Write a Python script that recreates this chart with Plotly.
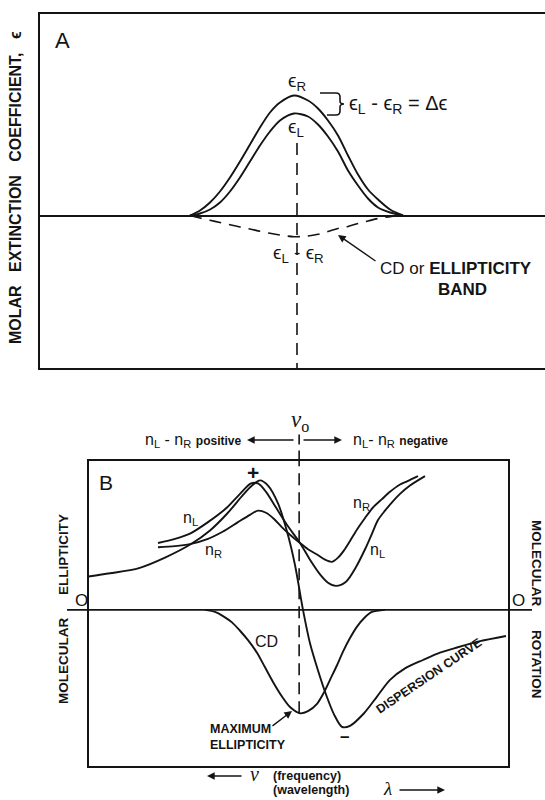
import plotly.graph_objects as go

# ---------------- Panel A data (arbitrary wavelength units vs molar extinction units)
a_wave = [29.70, 31.68, 33.66, 35.64, 37.62, 39.60, 41.58, 43.56, 45.54, 47.52, 50.30,
          53.07, 55.05, 57.03, 59.01, 60.99, 62.97, 64.95, 66.93, 69.31, 71.88]
eps_R = [0, 0.5, 1.3, 2.4, 3.8, 5.4, 7.1, 8.8, 10.3, 11.3, 12.0,
         11.5, 10.7, 9.5, 8.0, 6.0, 4.1, 2.6, 1.6, 0.6, 0]
eps_L = [0, 0.2, 0.6, 1.3, 2.4, 3.8, 5.4, 7.0, 8.4, 9.5, 10.2,
         9.9, 9.1, 7.9, 6.4, 4.5, 3.0, 1.7, 0.8, 0.3, 0]
cd_band = [0, -0.25, -0.48, -0.7, -0.93, -1.15, -1.35, -1.58, -1.78, -1.95, -2.12,
           -2.05, -1.88, -1.6, -1.3, -1.1, -0.8, -0.55, -0.3, -0.12, 0]
a_center = 50.89
a_center_top = 7.25
a_xrange = [0, 100]
a_yrange = [-15.25, 20.15]

# ---------------- Panel B data (arbitrary frequency units vs molecular ellipticity/rotation)
disp_x = [0, 5.10, 12.02, 18.22, 24.42, 28.95, 33.00, 36.82, 38.96, 40.87, 42.78, 45.16,
          47.31, 49.21, 51.12, 52.79, 54.70, 56.61, 58.51, 60.42, 62.33, 65.67, 68.77,
          71.87, 75.44, 79.73, 83.79, 87.84, 93.32, 99.52]
disp_y = [3.2, 3.5, 4.0, 5.0, 6.3, 7.6, 9.2, 11.0, 11.9, 12.4, 11.9, 10.2,
          7.5, 4.3, 0, -3.2, -5.8, -8.1, -10.0, -11.2, -11.1, -9.9, -8.3,
          -6.7, -5.6, -4.8, -4.1, -3.6, -3.0, -2.5]
cd_x = [27.75, 30.14, 32.05, 34.19, 36.10, 38.01, 40.15, 42.06, 43.97, 46.11, 48.02, 50.41,
        52.31, 54.46, 56.13, 57.56, 59.23, 60.66, 62.33, 64.00, 65.67, 67.57, 70.67]
cd_y = [0, -0.2, -0.6, -1.2, -2.0, -2.9, -4.1, -5.5, -6.9, -8.3, -9.3, -9.9,
        -9.7, -9.0, -7.9, -6.7, -5.3, -4.0, -2.7, -1.6, -0.8, -0.2, 0]
nL_x = [16.55, 20.60, 24.18, 28.47, 33.00, 36.10, 38.72, 40.39, 42.30, 44.68, 47.54, 50.41,
        52.79, 55.18, 57.08, 58.99, 61.37, 63.76, 65.91, 67.57, 69.00, 70.67, 72.34, 74.25,
        76.63, 80.21]
nL_y = [6.4, 6.8, 7.3, 8.4, 9.8, 11.1, 12.1, 12.1, 11.3, 9.8, 8.0, 6.4,
        4.8, 3.4, 2.6, 2.3, 2.7, 4.1, 5.8, 7.3, 8.6, 9.5, 10.3, 11.1,
        11.9, 12.8]
nR_x = [16.55, 20.60, 24.18, 28.47, 32.05, 35.62, 38.48, 40.39, 42.30, 44.21, 46.11, 48.02,
        50.41, 52.31, 54.46, 56.37, 58.04, 59.47, 60.90, 62.33, 64.00, 65.91, 67.81, 69.96,
        71.87, 74.26, 75.92, 78.54]
nR_y = [6.0, 6.1, 6.3, 6.8, 7.5, 8.4, 9.1, 9.5, 9.3, 8.7, 7.9, 7.2,
        6.4, 5.8, 5.3, 4.8, 4.6, 5.0, 5.7, 6.6, 7.7, 8.8, 9.8, 10.6,
        11.3, 12.0, 12.3, 12.8]
nu0 = 50.2
cd_max = -9.9
b_xrange = [0, 100]
b_yrange = [-14.9, 14.3]

W, H = 545, 800
INK = "#141414"
SANS = "Liberation Sans, DejaVu Sans, Arial, sans-serif"
SERIF = "Liberation Serif, DejaVu Serif, serif"

B_TOP, B_BOT = 460.5, 765.5


def P(x):
    return x / W


def Q(y):
    return 1 - y / H


fig = go.Figure()
line = dict(color=INK, width=1.9, shape="spline", smoothing=0.8)

# Panel A curves
fig.add_trace(go.Scatter(x=a_wave, y=eps_R, mode="lines", line=line, xaxis="x", yaxis="y"))
fig.add_trace(go.Scatter(x=a_wave, y=eps_L, mode="lines", line=line, xaxis="x", yaxis="y"))
fig.add_trace(go.Scatter(x=a_wave, y=cd_band, mode="lines",
                         line=dict(color=INK, width=1.6, dash="12px,8px", shape="spline"),
                         xaxis="x", yaxis="y"))
fig.add_trace(go.Scatter(x=[a_center, a_center], y=[a_center_top, a_yrange[0]], mode="lines",
                         line=dict(color=INK, width=1.6, dash="12px,8px"), xaxis="x", yaxis="y"))

# Panel B curves
fig.add_trace(go.Scatter(x=disp_x, y=disp_y, mode="lines", line=line, xaxis="x2", yaxis="y2"))
fig.add_trace(go.Scatter(x=cd_x, y=cd_y, mode="lines", line=line, xaxis="x2", yaxis="y2"))
fig.add_trace(go.Scatter(x=nL_x, y=nL_y, mode="lines", line=line, xaxis="x2", yaxis="y2"))
fig.add_trace(go.Scatter(x=nR_x, y=nR_y, mode="lines", line=line, xaxis="x2", yaxis="y2"))
fig.add_trace(go.Scatter(x=[nu0, nu0], y=[cd_max, b_yrange[1]], mode="lines",
                         line=dict(color=INK, width=1.6, dash="12px,7px"), xaxis="x2", yaxis="y2"))

ax_common = dict(showgrid=False, showticklabels=False, ticks="", linecolor=INK, linewidth=1.6,
                 showline=True, fixedrange=True)
fig.update_layout(
    width=W, height=H, margin=dict(l=0, r=0, t=0, b=0),
    paper_bgcolor="white", plot_bgcolor="white", showlegend=False,
    xaxis=dict(domain=[40 / W, 1], range=a_xrange, mirror=True, zeroline=False, anchor="y", **ax_common),
    yaxis=dict(domain=[Q(368), Q(14)], range=a_yrange, mirror=False, zeroline=True,
               zerolinecolor=INK, zerolinewidth=1.6, anchor="x", **ax_common),
    xaxis2=dict(domain=[88.6 / W, 508 / W], range=b_xrange, mirror=True, zeroline=False, anchor="y2", **ax_common),
    yaxis2=dict(domain=[Q(B_BOT), Q(B_TOP)], range=b_yrange, mirror=True, zeroline=False, anchor="x2", **ax_common),
)

# zero line of panel B extending past the frame, and nu0 guide above the frame
fig.add_shape(type="line", xref="x2 domain", yref="y2", x0=(67 - 88.6) / 419.4, x1=(532 - 88.6) / 419.4,
              y0=0, y1=0, line=dict(color=INK, width=1.6))
fig.add_shape(type="line", xref="x2", yref="paper", x0=nu0, x1=nu0, y0=Q(B_TOP), y1=Q(432),
              line=dict(color=INK, width=1.6, dash="10px,6px"))

# bracket in panel A
brace = (f"M{P(320)},{Q(93)} L{P(336)},{Q(93)} Q{P(340)},{Q(93)} {P(340)},{Q(97)} "
         f"L{P(340)},{Q(101)} Q{P(340)},{Q(104)} {P(344)},{Q(104)} Q{P(340)},{Q(104)} {P(340)},{Q(107)} "
         f"L{P(340)},{Q(111)} Q{P(340)},{Q(115)} {P(336)},{Q(115)} L{P(327)},{Q(115)}")
fig.add_shape(type="path", xref="paper", yref="paper", path=brace, line=dict(color=INK, width=1.6))

ann = []


def txt(s, x, y, size, xa="center", ya="middle", angle=0, family=SANS):
    ann.append(dict(text=s, x=P(x), y=Q(y), xref="paper", yref="paper", xanchor=xa, yanchor=ya,
                    textangle=angle, showarrow=False, font=dict(size=size, color=INK, family=family)))


def arrow(hx, hy, tx, ty):
    ann.append(dict(text="", x=P(hx), y=Q(hy), xref="paper", yref="paper", ax=tx - hx, ay=ty - hy,
                    showarrow=True, arrowhead=2, arrowsize=1.1, arrowwidth=1.4, arrowcolor=INK))


# Panel A text
txt("A", 62, 40, 22)
txt("ϵ<sub>R</sub>", 297, 82, 19)
txt("ϵ<sub>L</sub>", 296, 128, 19)
txt("ϵ<sub>L</sub> - ϵ<sub>R</sub> = Δϵ", 347, 104, 20, xa="left")
txt("ϵ<sub>L</sub> - ϵ<sub>R</sub>", 298, 254, 19)
txt("CD or <b>ELLIPTICITY</b>", 378, 268, 17, xa="left")
txt("<b>BAND</b>", 462, 289, 17)
arrow(338, 235, 377, 262)
txt("<b>MOLAR   EXTINCTION   COEFFICIENT,   ϵ</b>", 15, 188, 16, angle=-90)

# Panel B text
txt("<i>ν</i><sub>o</sub>", 300, 421, 23, family=SERIF)
txt("n<sub>L</sub> - n<sub>R</sub> <b><span style='font-size:12px'>positive</span></b>", 243, 440, 16, xa="right")
txt("n<sub>L</sub>- n<sub>R</sub> <b><span style='font-size:12px'>negative</span></b>", 351, 440, 16, xa="left")
arrow(247, 440, 295, 440)
arrow(342, 440, 302, 440)
txt("B", 106, 482, 21)
txt("<b>+</b>", 253, 472, 21)
txt("O", 81, 600, 17)
txt("O", 518, 600, 17)
txt("n<sub>L</sub>", 190, 518, 16)
txt("n<sub>R</sub>", 213, 550, 16)
txt("n<sub>R</sub>", 361, 503, 16)
txt("n<sub>L</sub>", 377, 550, 16)
txt("CD", 266, 641, 16)
txt("<b>DISPERSION CURVE</b>", 429, 676, 12.5, angle=-34)
txt("<b>MAXIMUM</b>", 208, 729, 12.5, xa="left")
txt("<b>ELLIPTICITY</b>", 208, 745, 12.5, xa="left")
arrow(292, 711, 271, 727)
txt("<b>–</b>", 344, 736, 17)
txt("<b>ELLIPTICITY</b>", 63, 555, 13.5, angle=-90)
txt("<b>MOLECULAR</b>", 63, 661, 13.5, angle=-90)
txt("<b>MOLECULAR</b>", 537, 563, 13.5, angle=90)
txt("<b>ROTATION</b>", 537, 664, 13.5, angle=90)
txt("<i>ν</i>", 254, 774, 20, family=SERIF)
txt("<b>(frequency)</b>", 271, 776, 12.5, xa="left")
txt("<b>(wavelength)</b>", 271, 790, 12.5, xa="left")
txt("<i>λ</i>", 387, 788, 19, family=SERIF)
arrow(207, 776, 243, 776)
arrow(445, 790, 398, 790)

fig.update_layout(annotations=ann)

fig.write_html("out.html", config={"displayModeBar": False},
               post_script="document.body.style.margin='0';")
